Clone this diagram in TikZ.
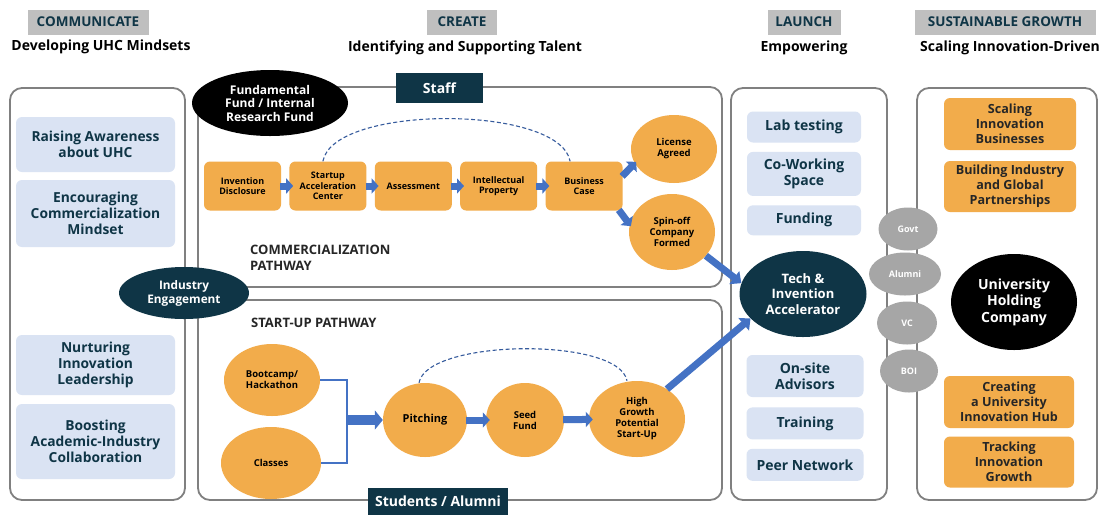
\documentclass[tikz,border=0pt]{standalone}
\usepackage{fontspec}
\setmainfont{Open Sans}
\usetikzlibrary{arrows.meta,positioning,shapes.geometric}

\definecolor{navy}{HTML}{0F3546}
\definecolor{boxorange}{HTML}{F2AC4B}
\definecolor{paleblue}{HTML}{DAE3F3}
\definecolor{hdrgray}{HTML}{BFBFBF}
\definecolor{circgray}{HTML}{A6A6A6}
\definecolor{arrowblue}{HTML}{4472C4}
\definecolor{framegray}{HTML}{808080}

\begin{document}
\begin{tikzpicture}[x=1pt, y=-1pt, node distance=8pt,
    hdr/.style={fill=hdrgray, text=navy, minimum height=25pt, inner sep=0pt, font=\fontsize{13.5}{15}\selectfont\bfseries},
    sub/.style={inner sep=0pt, font=\fontsize{14}{16}\selectfont\bfseries},
    frame/.style={draw=framegray, line width=1.8pt, rounded corners=12pt},
    lbox/.style={fill=paleblue, text=navy, rounded corners=6pt, align=center, inner sep=0pt, font=\fontsize{13.8}{16}\selectfont\bfseries},
    obox/.style={fill=boxorange, rounded corners=6pt, align=center, inner sep=0pt, minimum width=77pt, minimum height=49pt, font=\fontsize{9}{10.5}\selectfont\bfseries},
    oell/.style={ellipse, fill=boxorange, align=center, inner sep=0pt, font=\fontsize{9.5}{11}\selectfont\bfseries},
    rbox/.style={fill=boxorange, rounded corners=6pt, align=center, inner sep=0pt, minimum width=132pt, text=black!85, font=\fontsize{12.6}{15}\selectfont\bfseries},
    darkbox/.style={fill=navy, text=white, align=center, inner sep=0pt, font=\fontsize{14}{16}\selectfont\bfseries},
    darkell/.style={ellipse, fill=navy, text=white, align=center, inner sep=0pt},
    gcirc/.style={ellipse, fill=circgray, text=white, inner sep=0pt, minimum height=43pt, font=\fontsize{9}{10}\selectfont\bfseries},
    title/.style={anchor=west, align=left, inner sep=0pt, text=black!85, font=\fontsize{13}{15.5}\selectfont\bfseries},
    smallarrow/.style={draw=arrowblue, line width=7pt, -{Triangle[width=15pt,length=7pt]}, shorten <=-1pt, shorten >=-4pt},
    bigarrow/.style={draw=arrowblue, line width=7pt, -{Triangle[width=16pt,length=9pt]}},
    dashline/.style={draw=arrowblue!80!black, line width=1.1pt, dash pattern=on 4pt off 2.5pt},
    forkline/.style={draw=arrowblue, line width=1.3pt}]

    \useasboundingbox[fill=white] (0,0) rectangle (1102,515);

    % column headers
    \node[hdr, minimum width=121pt]  (hcomm)    at (88,22)     {COMMUNICATE};
    \node[sub]                       (scomm)    at (101,47)    {Developing UHC Mindsets};
    \node[hdr, minimum width=70pt]   (hcreate)  at (462,22)    {CREATE};
    \node[sub]                       (screate)  at (465,48)    {Identifying and Supporting Talent};
    \node[hdr, minimum width=73pt]   (hlaunch)  at (804,22)    {LAUNCH};
    \node[sub]                       (slaunch)  at (804,48)    {Empowering};
    \node[hdr, minimum width=181pt]  (hgrowth)  at (1005,22)   {SUSTAINABLE GROWTH};
    \node[sub]                       (sgrowth)  at (1010,48)   {Scaling Innovation-Driven};

    % frames
    \draw[frame] (10,88)  rectangle (185,500);
    \draw[frame] (198,87) rectangle (722,287);
    \draw[frame] (198,300) rectangle (722,500);
    \draw[frame] (731,88) rectangle (887,500);
    \draw[frame] (917,88) rectangle (1097,500);

    % communicate
    \node[lbox, minimum width=159pt, minimum height=55pt]  (aware)   at (95.5,144.5)  {Raising Awareness\\about UHC};
    \node[lbox, minimum width=159pt, minimum height=67pt]  (encour)  at (95.5,213.5)  {Encouraging\\Commercialization\\Mindset};
    \node[lbox, minimum width=159pt, minimum height=60pt]  (nurture) at (95.5,365)    {Nurturing\\Innovation\\Leadership};
    \node[lbox, minimum width=159pt, minimum height=75pt]  (boost)   at (95.5,441.5)  {Boosting\\Academic-Industry\\Collaboration};

    % create: commercialization pathway
    \node[darkell, fill=black, minimum width=156pt, minimum height=66pt, font=\fontsize{12}{13.5}\selectfont\bfseries]
                                     (fund)     at (270,103)   {Fundamental\\Fund / Internal\\Research Fund};
    \node[darkbox, minimum width=87pt, minimum height=30pt]
                                     (staff)    at (439.5,88)  {Staff};
    \node[obox]                      (disc)     at (242.5,186) {Invention\\Disclosure};
    \node[obox]                      (sac)      [right=of disc]   {Startup\\Acceleration\\Center};
    \node[obox]                      (assess)   [right=of sac]    {Assessment};
    \node[obox]                      (ip)       [right=of assess] {Intellectual\\Property};
    \node[obox]                      (bcase)    [right=of ip]     {Business\\Case};
    \node[oell, minimum width=86pt, minimum height=68pt]  (license) at (674,149) {License\\Agreed};
    \node[oell, minimum width=86pt, minimum height=76pt]  (spinoff) at (672,232) {Spin-off\\Company\\Formed};
    \node[title]                     (ctitle)   at (250,258)   {COMMERCIALIZATION\\PATHWAY};

    \draw[smallarrow] (disc) -- (sac);
    \draw[smallarrow] (sac) -- (assess);
    \draw[smallarrow] (assess) -- (ip);
    \draw[smallarrow] (ip) -- (bcase);
    \draw[smallarrow, shorten >=-2pt] (bcase.15) -- (license.200);
    \draw[smallarrow, shorten >=-2pt] (bcase.-35) -- (spinoff.170);
    \draw[dashline] ([xshift=-5pt]sac.north) to[out=80, in=100, looseness=0.6] ([xshift=-14pt]bcase.north);

    % create: start-up pathway
    \node[title]                     (stitle)   at (251,323)   {START-UP PATHWAY};
    \node[oell, minimum width=96pt, minimum height=72pt]  (boot)    at (272,380)  {Bootcamp/\\Hackathon};
    \node[oell, minimum width=100pt, minimum height=72pt] (classes) at (271,463)  {Classes};
    \node[oell, minimum width=84pt, minimum height=74pt, font=\fontsize{11}{12}\selectfont\bfseries]
                                                          (pitch)   at (425,420)  {Pitching};
    \node[oell, minimum width=78pt, minimum height=74pt]  (seed)    at (525,420)  {Seed\\Fund};
    \node[oell, minimum width=96pt, minimum height=76pt]  (growth)  at (637,419)  {High\\Growth\\Potential\\Start-Up};
    \coordinate (fork) at (347,420);
    \node[darkbox, minimum width=140pt, minimum height=27pt]
                                     (students) at (438,501.5) {Students / Alumni};

    \draw[forkline] (boot.east) -| (fork) |- (classes.east);
    \draw[bigarrow, line width=10pt, -{Triangle[width=19pt,length=8pt]}] (fork) -- (pitch);
    \draw[smallarrow] (pitch) -- (seed);
    \draw[smallarrow] (seed) -- (growth);
    \draw[dashline] ([xshift=-6pt]pitch.north) to[out=80, in=100, looseness=0.55] ([xshift=-10pt]growth.north);

    % industry link
    \node[darkell, minimum width=130pt, minimum height=52pt, font=\fontsize{11.8}{14}\selectfont\bfseries]
                                     (industry) at (184,293)   {Industry\\Engagement};

    % launch
    \node[lbox, minimum width=114pt, minimum height=31pt, font=\fontsize{14}{16.5}\selectfont\bfseries]
                                     (lab)      at (804,127)   {Lab testing};
    \node[lbox, minimum width=114pt, minimum height=44pt, font=\fontsize{14}{16.5}\selectfont\bfseries]
                                     (cowork)   [below=9pt of lab]     {Co-Working\\Space};
    \node[lbox, minimum width=114pt, minimum height=30pt, font=\fontsize{14}{16.5}\selectfont\bfseries]
                                     (funding)  [below=9pt of cowork]  {Funding};
    \node[darkell, minimum width=127pt, minimum height=86pt, font=\fontsize{13}{15.5}\selectfont\bfseries]
                                     (accel)    at (803,294)   {Tech \&\\Invention\\Accelerator};
    \node[lbox, minimum width=117pt, minimum height=42pt, font=\fontsize{14}{16.5}\selectfont\bfseries]
                                     (onsite)   at (805,376)   {On-site\\Advisors};
    \node[lbox, minimum width=117pt, minimum height=32pt, font=\fontsize{14}{16.5}\selectfont\bfseries]
                                     (training) [below=10pt of onsite] {Training};
    \node[lbox, minimum width=117pt, minimum height=32pt, font=\fontsize{14}{16.5}\selectfont\bfseries]
                                     (peer)     [below=9pt of training] {Peer Network};

    \draw[bigarrow] (spinoff.-35) -- (accel.170);
    \draw[bigarrow] (growth.45) -- (accel.205);

    % partners
    \node[gcirc, minimum width=59pt] (govt)     at (908,229)   {Govt};
    \node[gcirc, minimum width=72pt] (alumni)   at (905,274)   {Alumni};
    \node[gcirc, minimum width=60pt] (vc)       at (907,323)   {VC};
    \node[gcirc, minimum width=58pt] (boi)      at (909,371)   {BOI};

    % sustainable growth
    \node[rbox, minimum height=52pt] (scaling)  at (1010,124)  {Scaling\\Innovation\\Businesses};
    \node[rbox, minimum height=51pt] (building) at (1010,186.5) {Building Industry\\and Global\\Partnerships};
    \node[darkell, fill=black, minimum width=126pt, minimum height=96pt, font=\fontsize{14}{16.5}\selectfont\bfseries]
                                     (holding)  at (1014,302)  {University\\Holding\\Company};
    \node[rbox, minimum width=130pt, minimum height=52pt] (hub)      at (1009,402)  {Creating\\a University\\Innovation Hub};
    \node[rbox, minimum width=130pt, minimum height=51pt] (tracking) at (1009,462)  {Tracking\\Innovation\\Growth};
\end{tikzpicture}
\end{document}
